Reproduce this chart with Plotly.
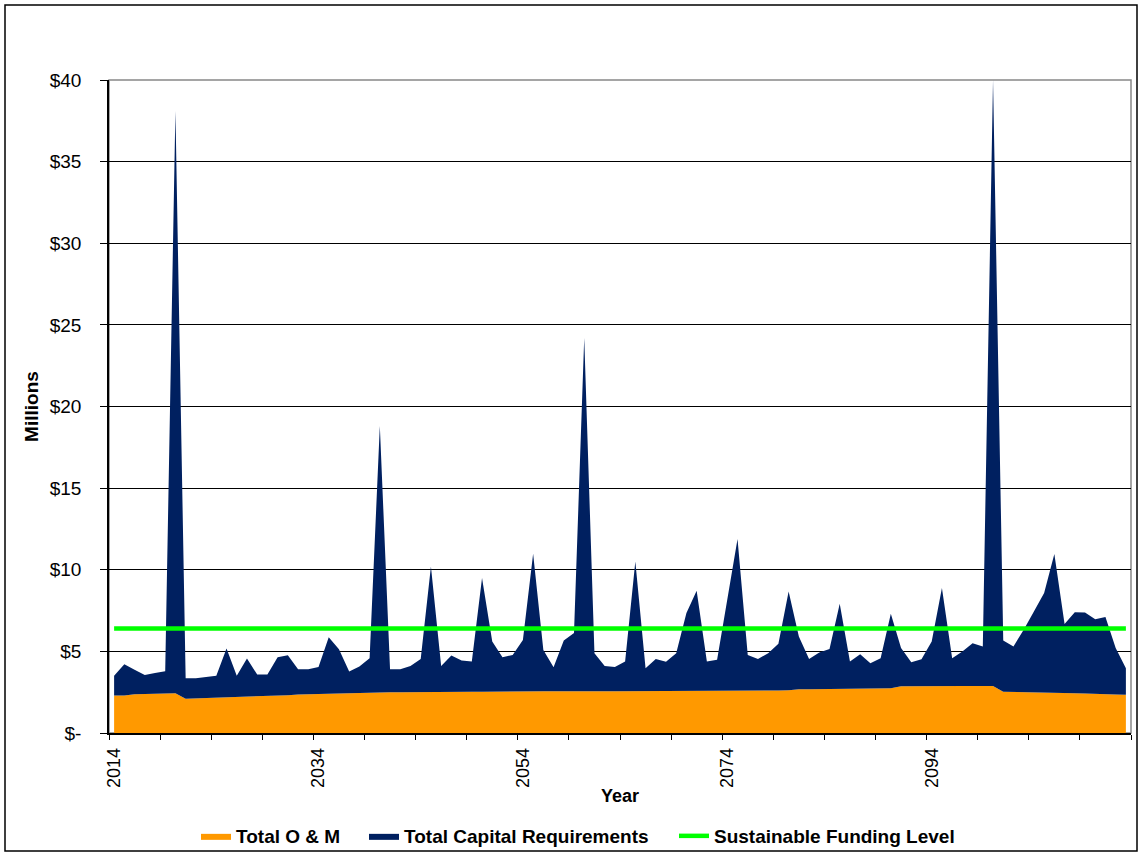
import plotly.graph_objects as go

# ---- data ----
years = list(range(2014, 2114))

total_om = [
    2.29, 2.30, 2.37, 2.39, 2.40, 2.41, 2.43, 2.10, 2.12, 2.13,
    2.15, 2.17, 2.22, 2.23, 2.23, 2.24, 2.26, 2.32, 2.36, 2.38,
    2.40, 2.41, 2.44, 2.46, 2.47, 2.49, 2.50, 2.50, 2.50, 2.51,
    2.51, 2.52, 2.52, 2.52, 2.53, 2.53, 2.53, 2.54, 2.54, 2.54,
    2.55, 2.55, 2.55, 2.55, 2.56, 2.56, 2.56, 2.56, 2.56, 2.56,
    2.56, 2.56, 2.56, 2.57, 2.57, 2.57, 2.57, 2.58, 2.58, 2.58,
    2.58, 2.58, 2.58, 2.58, 2.58, 2.60, 2.62, 2.68, 2.68, 2.69,
    2.69, 2.70, 2.70, 2.71, 2.72, 2.73, 2.74, 2.86, 2.87, 2.87,
    2.88, 2.88, 2.88, 2.88, 2.88, 2.88, 2.88, 2.53, 2.52, 2.52,
    2.51, 2.51, 2.50, 2.46, 2.44, 2.42, 2.39, 2.38, 2.36, 2.35,
]

total_capital = [
    1.21, 1.91, 1.51, 1.17, 1.28, 1.37, 35.67, 1.25, 1.23, 1.29,
    1.35, 3.00, 1.28, 2.33, 1.35, 1.34, 2.38, 2.44, 1.54, 1.52,
    1.65, 3.46, 2.69, 1.31, 1.60, 2.09, 16.30, 1.40, 1.40, 1.59,
    2.03, 7.68, 1.58, 2.22, 1.91, 1.85, 6.96, 3.06, 2.10, 2.24,
    3.15, 8.43, 2.54, 1.48, 3.10, 3.56, 21.64, 2.33, 1.54, 1.48,
    1.82, 7.94, 1.41, 1.97, 1.79, 2.32, 4.78, 6.13, 1.80, 1.90,
    5.60, 9.30, 2.20, 1.96, 2.31, 2.86, 6.05, 3.23, 1.86, 2.24,
    2.46, 5.21, 1.68, 2.12, 1.56, 1.85, 4.56, 2.34, 1.47, 1.65,
    2.72, 6.00, 1.70, 2.11, 2.62, 2.42, 37.12, 3.13, 2.78, 3.80,
    4.93, 6.06, 8.46, 4.21, 4.96, 4.96, 4.58, 4.72, 2.84, 1.62,
]

sustainable_level = 6.4
sustainable = [sustainable_level] * len(years)

y_tickvals = [0, 5, 10, 15, 20, 25, 30, 35, 40]
y_ticktext = ["$-", "$5", "$10", "$15", "$20", "$25", "$30", "$35", "$40"]
x_label_years = [2014, 2034, 2054, 2074, 2094]

# ---- figure ----
FONT = "Liberation Sans, Arial, sans-serif"
W, H = 1140, 854
ML, MR, MT, MB = 109, 9, 80, 121
PW, PH = W - ML - MR, H - MT - MB


def px_x(p):
    return (p - ML) / PW


def px_y(p):
    return (H - MB - p) / PH


fig = go.Figure()
fig.add_trace(go.Scatter(
    x=years, y=total_om, name="Total O & M", mode="lines",
    stackgroup="one", line=dict(width=0, color="#FF9900"),
    fillcolor="#FF9900", legend="legend",
))
fig.add_trace(go.Scatter(
    x=years, y=total_capital, name="Total Capital Requirements", mode="lines",
    stackgroup="one", line=dict(width=0, color="#002060"),
    fillcolor="#002060", legend="legend2",
))
fig.add_trace(go.Scatter(
    x=years, y=sustainable, name="Sustainable Funding Level", mode="lines",
    line=dict(width=4.5, color="#00FF00"), legend="legend3",
))

legend_font = dict(family=FONT, size=19, weight="bold", color="black")
legend_y = (H - 836) / H


def legend_at(text_left_px):
    return dict(
        orientation="h", xref="container", yref="container",
        x=(text_left_px - 42) / W, xanchor="left",
        y=legend_y, yanchor="middle",
        font=legend_font, itemwidth=30,
        bgcolor="rgba(0,0,0,0)", borderwidth=0,
    )


fig.update_layout(
    width=W, height=H,
    margin=dict(l=ML, r=MR, t=MT, b=MB, pad=0),
    paper_bgcolor="white", plot_bgcolor="white",
    font=dict(family=FONT, color="black", size=14),
    showlegend=True,
    legend=legend_at(238),
    legend2=legend_at(406),
    legend3=legend_at(716),
)

fig.update_xaxes(
    range=[2013.5, 2113.5], automargin=False,
    tickmode="array", tickvals=x_label_years,
    ticktext=[str(v) for v in x_label_years],
    tickangle=-90, ticks="", ticklen=0,
    ticklabelstandoff=6,
    tickfont=dict(family=FONT, size=18, color="black"),
    showgrid=False, zeroline=False,
    showline=True, linecolor="black", linewidth=1.5,
    minor=dict(tick0=2013.5, dtick=5, ticks="outside", ticklen=5,
               tickcolor="black", tickwidth=1, showgrid=False),
    title=dict(text="Year", font=dict(family=FONT, size=18, weight="bold"),
               standoff=2),
)

fig.update_yaxes(
    range=[0, 40], automargin=False,
    tickmode="array", tickvals=y_tickvals, ticktext=y_ticktext,
    ticks="outside", ticklen=7, tickcolor="black",
    ticklabelstandoff=15,
    tickfont=dict(family=FONT, size=19, color="black"),
    showgrid=True, gridcolor="black", gridwidth=1,
    zeroline=False,
    showline=True, linecolor="black", linewidth=1.5,
    title=dict(text="Millions", font=dict(family=FONT, size=19, weight="bold"),
               standoff=6),
)

# plot-area border (top/right grey) and outer chart border
fig.add_shape(type="rect", xref="paper", yref="paper",
              x0=0, x1=1, y0=0, y1=1,
              line=dict(color="#888888", width=1.5), layer="below")
fig.add_shape(type="rect", xref="paper", yref="paper",
              x0=px_x(5), x1=px_x(1137), y0=px_y(851), y1=px_y(5),
              line=dict(color="black", width=1.5), layer="below")

fig.write_html(
    "out.html",
    config={"displayModeBar": False},
    post_script="document.body.style.margin='0px';",
)
